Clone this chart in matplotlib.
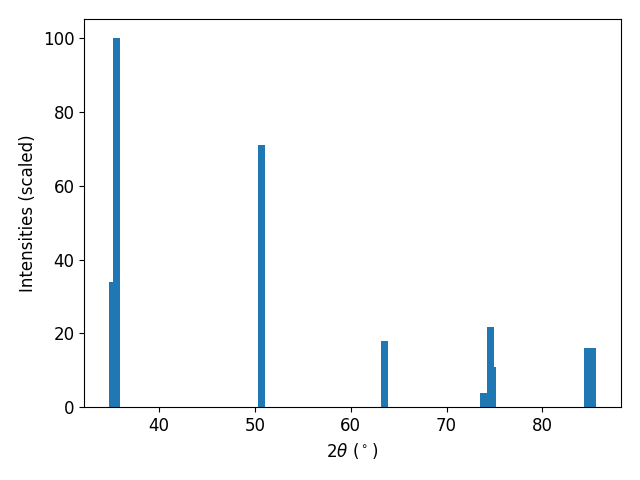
import matplotlib
matplotlib.use("Agg")
import matplotlib.pyplot as plt

# XRD peaks: 2theta positions (deg) and scaled intensities
two_theta = [35.13, 35.58, 50.70, 63.50, 73.87, 74.82, 74.60, 84.66, 85.23]
intensity = [34.0, 100.0, 71.0, 18.0, 3.8, 10.8, 21.7, 16.0, 16.0]

plt.figure(figsize=(6.4, 4.8), dpi=100)
plt.bar(two_theta, intensity, width=0.75, color="#1f77b4")
plt.xlabel(r"$2\theta$ ($^\circ$)", fontsize=12)
plt.ylabel("Intensities (scaled)", fontsize=12)
plt.xticks(fontsize=12)
plt.yticks(fontsize=12)
plt.tight_layout(pad=1.4)
plt.savefig("out.png")
